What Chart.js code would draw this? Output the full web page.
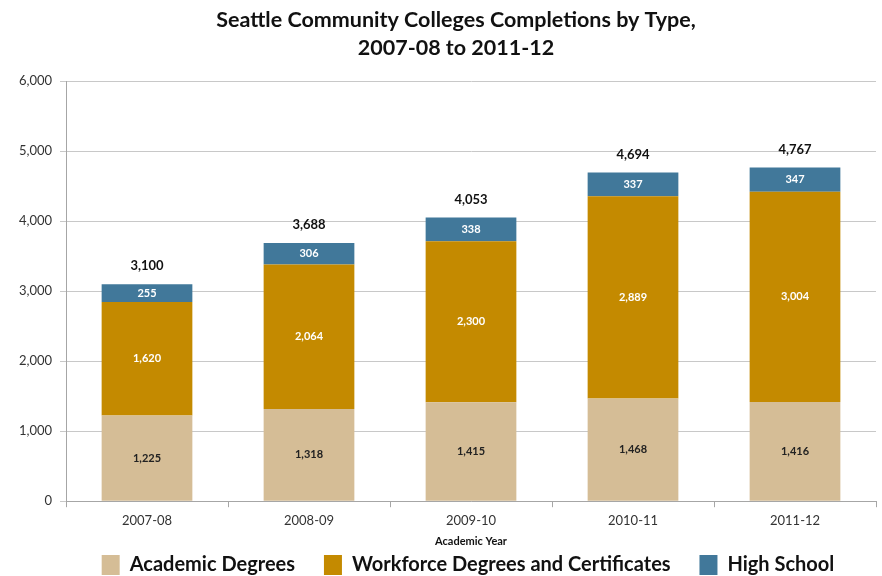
<!DOCTYPE html>
<html>
<head>
<meta charset="utf-8">
<script src="https://cdn.jsdelivr.net/npm/chart.js@4"></script>
<style>
  html, body { margin: 0; padding: 0; background: #fff; }
  #wrap { width: 882px; height: 576px; }
</style>
</head>
<body>
<div id="wrap"><canvas id="completionsChart" width="882" height="576"></canvas></div>
<script>
const years = ['2007-08', '2008-09', '2009-10', '2010-11', '2011-12'];
const academic = [1225, 1318, 1415, 1468, 1416];
const workforce = [1620, 2064, 2300, 2889, 3004];
const highSchool = [255, 306, 338, 337, 347];
const totals = [3100, 3688, 4053, 4694, 4767];
const yTicks = [0, 1000, 2000, 3000, 4000, 5000, 6000];

const fontFamily = 'Lato, "Open Sans", sans-serif';
const labelColors = ['#222222', '#ffffff', '#ffffff'];

// numbers inside the segments, totals above each bar
const barLabels = {
    id: 'barLabels',
    beforeDraw(chart) {
        // centre legend and title over the plot area rather than the whole canvas
        chart.legend.left = chart.chartArea.left - 6;
        chart.titleBlock.left = 36;
    },
    afterDatasetsDraw(chart) {
        const ctx = chart.ctx;
        ctx.save();
        ctx.textAlign = 'center';
        ctx.textBaseline = 'middle';
        ctx.font = 'bold 11px ' + fontFamily;
        chart.data.datasets.forEach((ds, di) => {
            const meta = chart.getDatasetMeta(di);
            meta.data.forEach((bar, i) => {
                ctx.fillStyle = labelColors[di];
                ctx.fillText(ds.data[i].toLocaleString('en-US'), bar.x, (bar.y + bar.base) / 2);
            });
        });
        const topMeta = chart.getDatasetMeta(chart.data.datasets.length - 1);
        ctx.font = 'bold 13px ' + fontFamily;
        ctx.fillStyle = '#111111';
        topMeta.data.forEach((bar, i) => {
            ctx.fillText(totals[i].toLocaleString('en-US'), bar.x, bar.y - 18);
        });
        ctx.restore();
    }
};

const ctx = document.getElementById('completionsChart').getContext('2d');
new Chart(ctx, {
    type: 'bar',
    data: {
        labels: years,
        datasets: [
            { label: 'Academic Degrees', data: academic, backgroundColor: '#D5BD96' },
            { label: 'Workforce Degrees and Certificates', data: workforce, backgroundColor: '#C48A00' },
            { label: 'High School', data: highSchool, backgroundColor: '#41789A' }
        ]
    },
    options: {
        responsive: false,
        animation: false,
        categoryPercentage: 0.56,
        barPercentage: 1,
        layout: { padding: { left: 0, right: 6, top: 0, bottom: -9 } },
        plugins: {
            title: {
                display: true,
                text: ['Seattle Community Colleges Completions by Type,', '2007-08 to 2011-12'],
                color: '#111111',
                font: { family: fontFamily, size: 21.5, weight: 'bold', lineHeight: 1.26 },
                padding: { top: 7, bottom: 20 }
            },
            legend: {
                position: 'bottom',
                labels: {
                    color: '#111111',
                    font: { family: fontFamily, size: 20, weight: 'bold' },
                    boxWidth: 18,
                    boxHeight: 20,
                    padding: 4,
                    generateLabels(chart) {
                        const items = Chart.defaults.plugins.legend.labels.generateLabels(chart);
                        items.forEach((item, i) => {
                            item.lineWidth = 0;
                            if (i < items.length - 1) item.text += '\u2002\u2002 ';
                        });
                        return items;
                    }
                }
            },
            tooltip: { enabled: false }
        },
        scales: {
            x: {
                stacked: true,
                grid: { offset: true, drawOnChartArea: false, drawTicks: true, tickLength: 6, color: '#a6a6a6' },
                border: { color: '#a6a6a6' },
                ticks: { color: '#333333', font: { family: fontFamily, size: 13 }, padding: 6 },
                title: {
                    display: true,
                    text: 'Academic Year',
                    color: '#111111',
                    font: { family: fontFamily, size: 11, weight: 'bold' },
                    padding: { top: 0, bottom: 3 }
                }
            },
            y: {
                stacked: true,
                min: 0,
                max: 6000,
                afterBuildTicks(scale) {
                    scale.ticks = yTicks.map(v => ({ value: v }));
                },
                afterFit(scale) {
                    scale.width = 66;
                },
                grid: { color: '#c8c8c8', tickLength: 6 },
                border: { color: '#a6a6a6' },
                ticks: {
                    color: '#333333',
                    font: { family: fontFamily, size: 13 },
                    padding: 8,
                    callback: v => v.toLocaleString('en-US')
                }
            }
        }
    },
    plugins: [barLabels]
});
</script>
</body>
</html>
